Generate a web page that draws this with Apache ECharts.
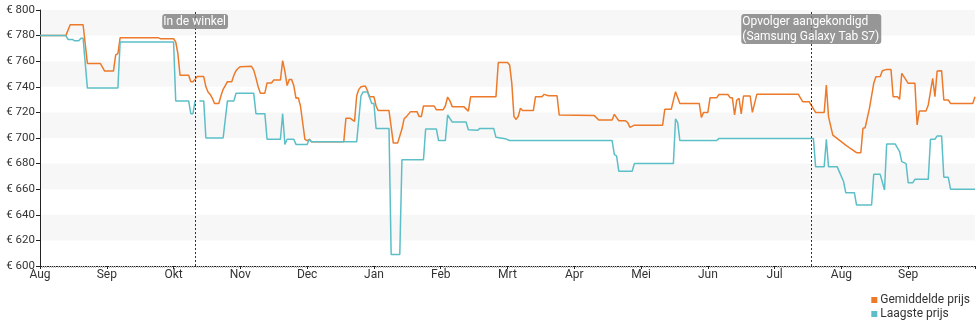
<!DOCTYPE html>
<html>
<head>
<meta charset="utf-8">
<script src="https://cdn.jsdelivr.net/npm/echarts@6/dist/echarts.min.js"></script>
<style>
  html, body { margin: 0; padding: 0; background: #fff; }
  #chart { width: 980px; height: 325px; }
</style>
</head>
<body>
<div id="chart"></div>
<script>
// Month tick labels, starting August 2019 (one tick per month)
const monthLabels = ['Aug', 'Sep', 'Okt', 'Nov', 'Dec', 'Jan', 'Feb', 'Mrt', 'Apr', 'Mei', 'Jun', 'Jul', 'Aug', 'Sep', 'Okt'];
const startYear = 2019;
const startMonth = 8;

// Price axis
const priceMin = 600;
const priceMax = 800;
const priceStep = 20;

// Events shown as dotted lines
const eventDates = ['2019-10-11', '2020-07-18'];
const eventTexts = ['In de winkel', 'Opvolger aangekondigd\n(Samsung Galaxy Tab S7)'];

// Average price per day (changes only)
const avgPrice = [
  ['2019-08-01', 780], ['2019-08-13', 780], ['2019-08-15', 788.5], ['2019-08-21', 788.5],
  ['2019-08-23', 758.3], ['2019-08-29', 758.3], ['2019-08-31', 752.3], ['2019-09-04', 752.3],
  ['2019-09-05', 765], ['2019-09-06', 766], ['2019-09-07', 778.4], ['2019-09-24', 778.4],
  ['2019-09-25', 777.6], ['2019-10-01', 777.6], ['2019-10-02', 775], ['2019-10-03', 766],
  ['2019-10-04', 749], ['2019-10-08', 749], ['2019-10-09', 744], ['2019-10-10', 744],
  ['2019-10-11', 746], ['2019-10-12', 748], ['2019-10-15', 748], ['2019-10-16', 740],
  ['2019-10-17', 736], ['2019-10-18', 734], ['2019-10-19', 731], ['2019-10-20', 727],
  ['2019-10-22', 727], ['2019-10-23', 733], ['2019-10-24', 738], ['2019-10-25', 741],
  ['2019-10-26', 744], ['2019-10-28', 744], ['2019-10-29', 749], ['2019-10-30', 752.6],
  ['2019-10-31', 754.5], ['2019-11-01', 755.7], ['2019-11-06', 756], ['2019-11-07', 753],
  ['2019-11-08', 747], ['2019-11-09', 740], ['2019-11-10', 735], ['2019-11-12', 735],
  ['2019-11-13', 743], ['2019-11-15', 743], ['2019-11-16', 745.3], ['2019-11-19', 745.3],
  ['2019-11-20', 760.4], ['2019-11-21', 752], ['2019-11-22', 741], ['2019-11-23', 745.8],
  ['2019-11-24', 745.8], ['2019-11-25', 741], ['2019-11-26', 731], ['2019-11-27', 731.5],
  ['2019-11-28', 725], ['2019-11-30', 699], ['2019-12-01', 698], ['2019-12-02', 699],
  ['2019-12-03', 697], ['2019-12-18', 697], ['2019-12-19', 715.4], ['2019-12-21', 715.4],
  ['2019-12-23', 713], ['2019-12-24', 733], ['2019-12-25', 738], ['2019-12-26', 740],
  ['2019-12-28', 740.6], ['2019-12-29', 737], ['2019-12-30', 732.3], ['2020-01-01', 732.3],
  ['2020-01-02', 725], ['2020-01-03', 721.4], ['2020-01-08', 721.4], ['2020-01-10', 696],
  ['2020-01-12', 696], ['2020-01-14', 707], ['2020-01-15', 715], ['2020-01-16', 716.5],
  ['2020-01-18', 720.6], ['2020-01-21', 720.6], ['2020-01-22', 716.7], ['2020-01-23', 716.7],
  ['2020-01-24', 725], ['2020-01-29', 725], ['2020-01-30', 722], ['2020-02-02', 722],
  ['2020-02-03', 725], ['2020-02-04', 732], ['2020-02-05', 729], ['2020-02-06', 724.5],
  ['2020-02-11', 724.5], ['2020-02-13', 721], ['2020-02-14', 732.3], ['2020-02-25', 732.3],
  ['2020-02-26', 759], ['2020-03-01', 759], ['2020-03-02', 757], ['2020-03-03', 742.7],
  ['2020-03-04', 716.7], ['2020-03-05', 714.5], ['2020-03-06', 717], ['2020-03-07', 723.2],
  ['2020-03-08', 721.4], ['2020-03-13', 721.4], ['2020-03-14', 732.3], ['2020-03-17', 732.3],
  ['2020-03-18', 734.1], ['2020-03-20', 733], ['2020-03-24', 733], ['2020-03-25', 718],
  ['2020-04-10', 717.5], ['2020-04-12', 714], ['2020-04-18', 714], ['2020-04-19', 718.5],
  ['2020-04-21', 713.5], ['2020-04-24', 713.5], ['2020-04-25', 712], ['2020-04-26', 708.3],
  ['2020-04-28', 710], ['2020-05-11', 710], ['2020-05-12', 722.4], ['2020-05-15', 722.4],
  ['2020-05-17', 736.2], ['2020-05-19', 727], ['2020-05-28', 727], ['2020-05-29', 716],
  ['2020-05-30', 720], ['2020-06-01', 720], ['2020-06-02', 731.5], ['2020-06-05', 731.5],
  ['2020-06-06', 734], ['2020-06-10', 734], ['2020-06-11', 731.5], ['2020-06-12', 731.5],
  ['2020-06-13', 718], ['2020-06-14', 729.7], ['2020-06-15', 731], ['2020-06-16', 718.75],
  ['2020-06-17', 732.8], ['2020-06-20', 732.8], ['2020-06-21', 720], ['2020-06-23', 734.1],
  ['2020-07-12', 734.1], ['2020-07-14', 728.4], ['2020-07-17', 728.4], ['2020-07-20', 720],
  ['2020-07-24', 720], ['2020-07-25', 741.4], ['2020-07-26', 716.7], ['2020-07-28', 702.3],
  ['2020-07-30', 699.7], ['2020-07-31', 698.4], ['2020-08-03', 694.5], ['2020-08-05', 692],
  ['2020-08-08', 688.5], ['2020-08-10', 688.5], ['2020-08-11', 707.6], ['2020-08-12', 708],
  ['2020-08-14', 723.2], ['2020-08-16', 742.7], ['2020-08-17', 747.9], ['2020-08-19', 748],
  ['2020-08-20', 752.6], ['2020-08-22', 753.6], ['2020-08-24', 753.6], ['2020-08-25', 732.3],
  ['2020-08-27', 732.3], ['2020-08-28', 730.2], ['2020-08-29', 750.5], ['2020-08-30', 748],
  ['2020-09-01', 742.7], ['2020-09-04', 742.7], ['2020-09-05', 710.2], ['2020-09-06', 721.1],
  ['2020-09-09', 721.1], ['2020-09-10', 725.8], ['2020-09-12', 746.6], ['2020-09-13', 732.3],
  ['2020-09-14', 752.3], ['2020-09-16', 752.6], ['2020-09-17', 729.7], ['2020-09-19', 729.7],
  ['2020-09-20', 727], ['2020-09-30', 727], ['2020-10-01', 732.3]
];

// Lowest price per day (changes only); null = no data that day
const lowPrice = [
  ['2019-08-01', 780], ['2019-08-13', 780], ['2019-08-14', 777], ['2019-08-16', 777],
  ['2019-08-17', 776], ['2019-08-19', 776], ['2019-08-20', 778], ['2019-08-21', 778],
  ['2019-08-23', 739], ['2019-09-06', 739], ['2019-09-07', 775], ['2019-10-01', 775],
  ['2019-10-02', 729], ['2019-10-08', 729], ['2019-10-09', 719], ['2019-10-10', 719],
  ['2019-10-11', 729], ['2019-10-12', null], ['2019-10-13', 729], ['2019-10-15', 729],
  ['2019-10-16', 700], ['2019-10-24', 700], ['2019-10-26', 729], ['2019-10-29', 729],
  ['2019-10-30', 735], ['2019-11-07', 735], ['2019-11-08', 719], ['2019-11-12', 719],
  ['2019-11-13', 699], ['2019-11-19', 699], ['2019-11-20', 719], ['2019-11-21', 695],
  ['2019-11-22', 699], ['2019-11-25', 699], ['2019-11-26', 695], ['2019-12-01', 695],
  ['2019-12-02', 699], ['2019-12-03', 697], ['2019-12-24', 697], ['2019-12-26', 733],
  ['2019-12-27', 736], ['2019-12-29', 736], ['2019-12-31', 727], ['2020-01-01', 727],
  ['2020-01-02', 707.5], ['2020-01-08', 707.5], ['2020-01-09', 609], ['2020-01-13', 609],
  ['2020-01-14', 683], ['2020-01-24', 683], ['2020-01-25', 707], ['2020-01-30', 707],
  ['2020-01-31', 698], ['2020-02-03', 698], ['2020-02-04', 718], ['2020-02-06', 712.5],
  ['2020-02-12', 712.5], ['2020-02-13', 706.5], ['2020-02-17', 706], ['2020-02-18', 707.5],
  ['2020-02-24', 707.5], ['2020-02-25', 700.5], ['2020-02-29', 699.5], ['2020-03-02', 698],
  ['2020-04-18', 698], ['2020-04-19', 687], ['2020-04-20', 686], ['2020-04-21', 674],
  ['2020-04-27', 674], ['2020-04-28', 680], ['2020-05-16', 680], ['2020-05-17', 715],
  ['2020-05-18', 712], ['2020-05-19', 698], ['2020-06-05', 698], ['2020-06-06', 699.7],
  ['2020-07-19', 699.7], ['2020-07-20', 677.6], ['2020-07-24', 677.6], ['2020-07-25', 699],
  ['2020-07-26', 677.6], ['2020-07-30', 677.6], ['2020-07-31', 673.7], ['2020-08-02', 666],
  ['2020-08-03', 657.3], ['2020-08-07', 657.3], ['2020-08-08', 647.7], ['2020-08-15', 647.7],
  ['2020-08-16', 671.6], ['2020-08-19', 671.6], ['2020-08-21', 659.4], ['2020-08-22', 695.3],
  ['2020-08-26', 695.3], ['2020-08-28', 689.4], ['2020-08-29', 681.5], ['2020-08-31', 680],
  ['2020-09-01', 665], ['2020-09-03', 665], ['2020-09-04', 667.7], ['2020-09-10', 667.7],
  ['2020-09-11', 699], ['2020-09-13', 699], ['2020-09-14', 701.6], ['2020-09-16', 701.6],
  ['2020-09-17', 669.3], ['2020-09-19', 669.3], ['2020-09-20', 660], ['2020-10-01', 660]
];

// Months are drawn with equal width: a date maps to month index + fraction of that month
function monthPos(dateStr) {
  const [y, m, d] = dateStr.split('-').map(Number);
  const index = (y - startYear) * 12 + (m - startMonth);
  const daysInMonth = new Date(y, m, 0).getDate();
  return index + (d - 1) / daysInMonth;
}

const toPoints = rows => rows.map(([date, price]) => [monthPos(date), price]);

const orange = '#ec7a2a';
const teal = '#5cbfc8';
const axisColor = '#222';
const fontFamily = 'Roboto, "Noto Sans", sans-serif';

const chart = echarts.init(document.getElementById('chart'), null, { renderer: 'canvas' });

chart.setOption({
  animation: false,
  textStyle: { fontFamily: fontFamily },
  grid: { left: 40, right: 5, top: 10, bottom: 59, containLabel: false },
  legend: {
    orient: 'vertical',
    right: 5,
    top: 289,
    itemGap: 2,
    itemWidth: 6,
    itemHeight: 6,
    icon: 'rect',
    align: 'left',
    textStyle: { fontSize: 12, color: '#333', fontFamily: fontFamily, padding: [0, 0, 0, -2] },
    data: ['Gemiddelde prijs', 'Laagste prijs']
  },
  xAxis: {
    type: 'value',
    min: 0,
    max: monthLabels.length - 1,
    interval: 1,
    axisLine: { show: true, lineStyle: { color: axisColor, width: 1 } },
    axisTick: { show: true, length: 3, lineStyle: { color: axisColor } },
    minorTick: { show: true, splitNumber: 30, length: 2, lineStyle: { color: '#bbb' } },
    splitLine: { show: false },
    axisLabel: {
      margin: 3,
      fontSize: 12,
      color: '#333',
      showMaxLabel: false,
      formatter: v => monthLabels[Math.round(v)] || ''
    }
  },
  yAxis: {
    type: 'value',
    min: priceMin,
    max: priceMax,
    interval: priceStep,
    axisLine: { show: true, lineStyle: { color: axisColor, width: 1 } },
    axisTick: { show: true, length: 4, lineStyle: { color: axisColor } },
    splitLine: { show: false },
    splitArea: { show: true, areaStyle: { color: ['rgba(255,255,255,0)', '#f7f7f7'] } },
    axisLabel: {
      margin: 5,
      fontSize: 11.5,
      color: '#333',
      formatter: v => '€ ' + v
    }
  },
  series: [
    {
      name: 'Gemiddelde prijs',
      type: 'line',
      data: toPoints(avgPrice),
      showSymbol: false,
      connectNulls: false,
      color: orange,
      lineStyle: { width: 1.5, color: orange },
      markLine: {
        silent: true,
        symbol: ['none', 'none'],
        label: { show: false },
        lineStyle: { type: [2, 2], color: '#333', width: 1 },
        data: eventDates.map(d => ({ xAxis: monthPos(d) }))
      },
      markPoint: {
        silent: true,
        symbol: 'rect',
        symbolSize: 0,
        itemStyle: { color: 'rgba(0,0,0,0)' },
        label: {
          show: true,
          position: 'bottom',
          distance: 4,
          backgroundColor: 'rgba(128,128,128,0.82)',
          borderRadius: 3,
          padding: [0, 2, 0, 1],
          color: '#fff',
          fontSize: 12,
          lineHeight: 15,
          fontFamily: fontFamily,
          formatter: p => p.name.split('\n').map(line => '{t|' + line + '}').join('\n'),
          rich: { t: { align: 'left', color: '#fff', fontSize: 12, lineHeight: 15, fontFamily: fontFamily } }
        },
        data: eventDates.map((d, i) => ({ name: eventTexts[i], coord: [monthPos(d), priceMax] }))
      }
    },
    {
      name: 'Laagste prijs',
      type: 'line',
      data: toPoints(lowPrice),
      showSymbol: false,
      connectNulls: false,
      color: teal,
      lineStyle: { width: 1.5, color: teal }
    }
  ]
});
</script>
</body>
</html>
